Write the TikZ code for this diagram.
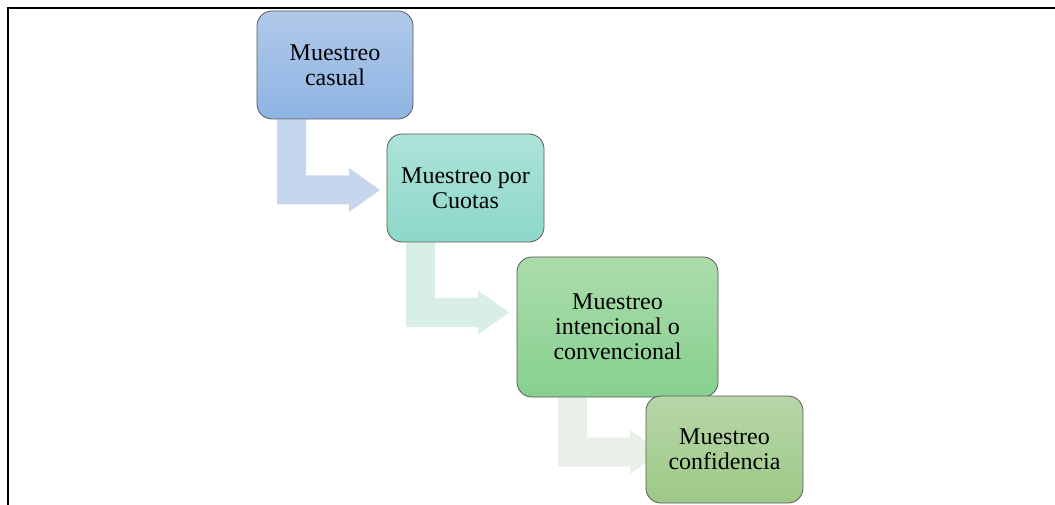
\documentclass[tikz,border=0pt]{standalone}
\usepackage{fontspec}
\setmainfont{Liberation Serif}
\usetikzlibrary{backgrounds}
\definecolor{azulA}{HTML}{B0C9EA}\definecolor{azulB}{HTML}{8EB4E3}
\definecolor{aguaA}{HTML}{ADE3D8}\definecolor{aguaB}{HTML}{8CD8C9}
\definecolor{verdeA}{HTML}{ABDCAB}\definecolor{verdeB}{HTML}{86D08F}
\definecolor{olivaA}{HTML}{B8D6A8}\definecolor{olivaB}{HTML}{9DC987}
\definecolor{flechaA}{HTML}{C6D6EC}\definecolor{flechaB}{HTML}{D9EEE7}\definecolor{flechaC}{HTML}{E9F0E7}
\newcommand{\pasoflecha}[4]{%
	\fill[#4] (#2,0 |- #1.south) -- (#2+29,0 |- #1.south) -- (#2+29,#3-14.5) -- (#2+72,#3-14.5) -- (#2+72,#3-22)
	-- (#2+103,#3) -- (#2+72,#3+22) -- (#2+72,#3+14.5) -- (#2,#3+14.5) -- cycle;}
\begin{document}
\begin{tikzpicture}[x=1pt,y=-1pt]
	\tikzstyle{caja}=[draw=black!65,line width=0.8pt,rounded corners=15pt,align=center,
		font=\fontsize{24}{25}\selectfont,inner sep=0pt]
	\useasboundingbox (0,0) rectangle (1055,505);
	\draw[line width=2pt] (8,505) -- (8,8) -- (1055,8);
	\node[caja,top color=azulA,bottom color=azulB,minimum width=156,minimum height=108] (casual) at (335,65) {Muestreo\\casual};
	\node[caja,top color=aguaA,bottom color=aguaB,minimum width=157,minimum height=108] (cuotas) at (465.5,188) {Muestreo por\\Cuotas};
	\node[caja,top color=verdeA,bottom color=verdeB,minimum width=201,minimum height=140] (intencional) at (617.5,327) {Muestreo\\intencional o\\convencional};
	\node[caja,top color=olivaA,bottom color=olivaB,minimum width=157,minimum height=107] (confianza) at (724.5,449.5) {Muestreo\\confidencia};
	\begin{scope}[on background layer]
		\pasoflecha{casual}{277}{190}{flechaA}
		\pasoflecha{cuotas}{406}{312.5}{flechaB}
		\pasoflecha{intencional}{558}{452}{flechaC}
	\end{scope}
\end{tikzpicture}
\end{document}
